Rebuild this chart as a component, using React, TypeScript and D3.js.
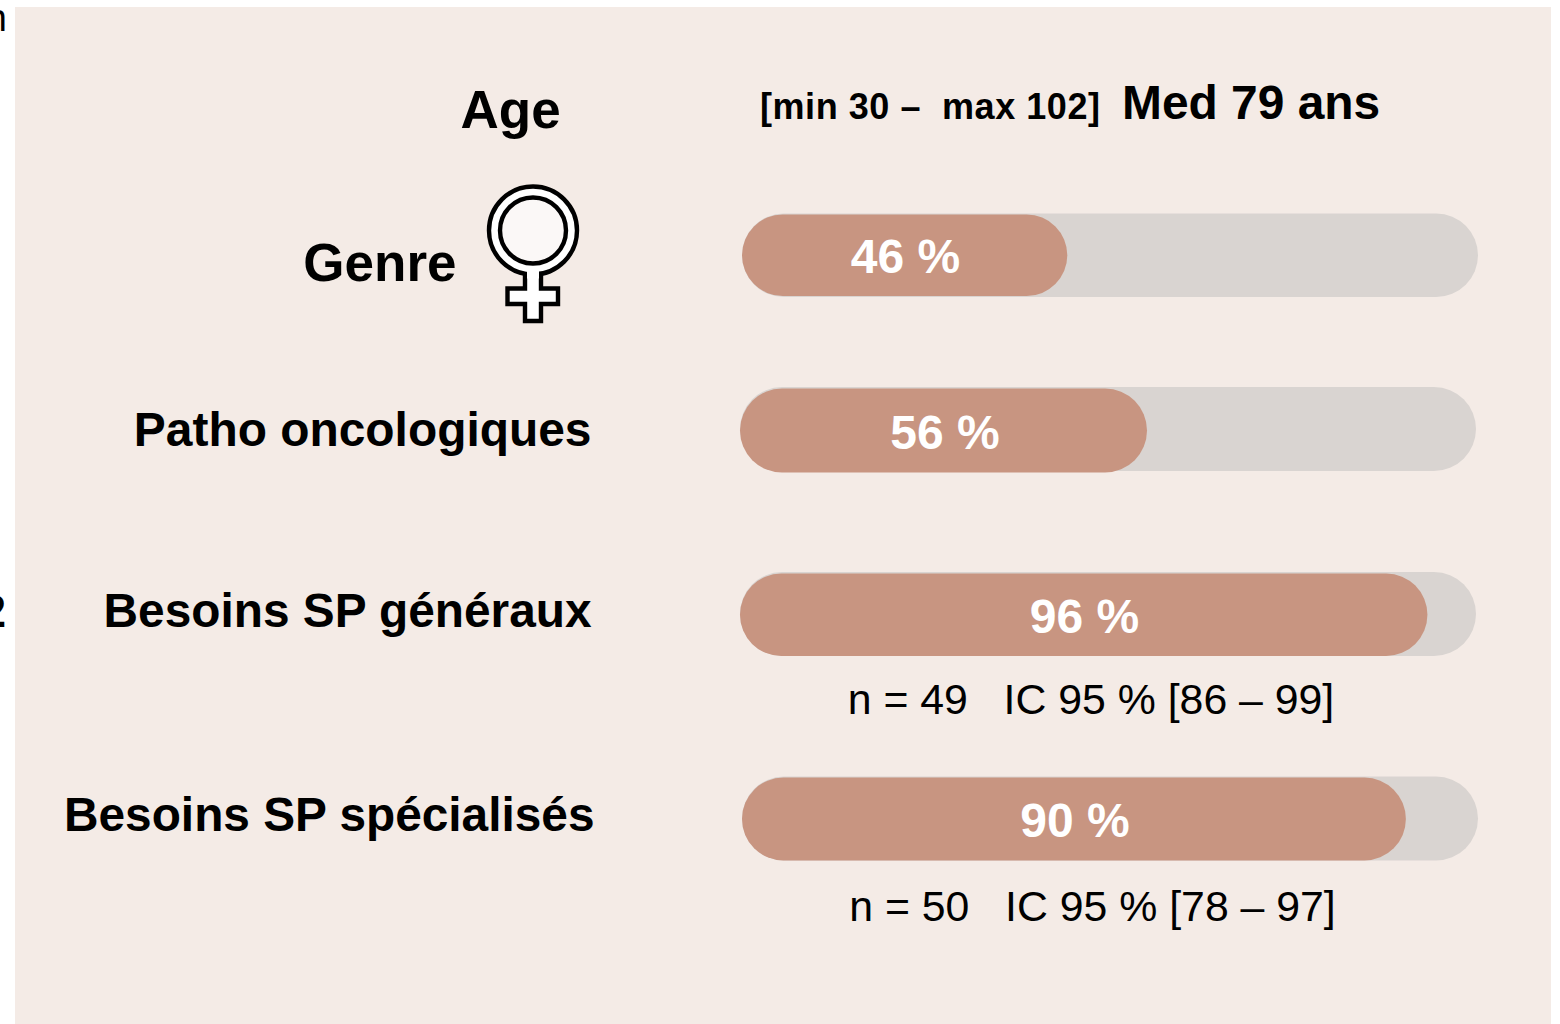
import { useEffect, useRef } from "react";
import * as d3 from "d3";

const rowLabels = ["Genre", "Patho oncologiques", "Besoins SP généraux", "Besoins SP spécialisés"];
const percentLabels = ["46 %", "56 %", "96 %", "90 %"];
// length of the filled part as drawn in the picture, in % of the track
const fillValues = [44.2, 55.3, 93.4, 90.2];
const ciNotes = ["", "", "n = 49   IC 95 % [86 – 99]", "n = 50   IC 95 % [78 – 97]"];

const W = 1560;
const H = 1024;
const FONT = "'Liberation Sans', Arial, sans-serif";
const PANEL = "#f4ebe6";

// geometry per row: track box, fill box, label and text anchors
const rowLayout = [
    { x: 742, y: 213.5, h: 83.5, fy: 214.5, fh: 81.5, lx: 456.5, ly: 281, ls: 53, px: 905.5, py: 273, nx: 0, ny: 0 },
    { x: 740, y: 387, h: 84, fy: 388.5, fh: 84, lx: 591.5, ly: 446, ls: 47.9, px: 945, py: 449, nx: 0, ny: 0 },
    { x: 740, y: 572, h: 84, fy: 573.5, fh: 82.5, lx: 591.5, ly: 627, ls: 47.8, px: 1084.5, py: 633, nx: 1091, ny: 713.5 },
    { x: 742, y: 776.5, h: 84, fy: 777.5, fh: 83, lx: 594.5, ly: 831, ls: 47.8, px: 1075, py: 837, nx: 1092.5, ny: 921 },
];
const TRACK_W = 736;

export default function App() {
    const ref = useRef<SVGSVGElement | null>(null);

    useEffect(() => {
        if (!ref.current) return;
        const svg = d3.select(ref.current);
        svg.selectAll("*").remove();

        const x = d3.scaleLinear().domain([0, 100]).range([0, TRACK_W]);

        svg.append("rect").attr("width", W).attr("height", H).attr("fill", "#ffffff");
        svg.append("rect").attr("x", 15).attr("y", 7).attr("width", 1536).attr("height", 1017).attr("fill", PANEL);

        // clipped text from the neighbouring slide
        const txt = svg.append("g").attr("font-family", FONT);
        txt.append("text").attr("x", 7).attr("y", 31).attr("text-anchor", "end").attr("font-size", 38).text("n");
        txt.append("text").attr("x", 6).attr("y", 627).attr("text-anchor", "end").attr("font-size", 46).attr("font-weight", 700).text("2");

        // age row
        txt.append("text").attr("x", 460.5).attr("y", 128).attr("font-size", 53).attr("font-weight", 700).text("Age");
        txt.append("text").attr("x", 760).attr("y", 119).attr("font-size", 36).attr("font-weight", 700).attr("textLength", 340).style("white-space", "pre").text("[min 30 –  max 102]");
        txt.append("text").attr("x", 1122).attr("y", 119).attr("font-size", 47.9).attr("font-weight", 700).text("Med 79 ans");

        // rows
        const rows = svg.append("g").selectAll("g").data(rowLabels).join("g");

        rows.append("text")
            .attr("x", (_, i) => rowLayout[i].lx)
            .attr("y", (_, i) => rowLayout[i].ly)
            .attr("text-anchor", "end")
            .attr("font-family", FONT)
            .attr("font-weight", 700)
            .attr("font-size", (_, i) => rowLayout[i].ls)
            .text((d) => d);

        rows.append("rect")
            .attr("x", (_, i) => rowLayout[i].x)
            .attr("y", (_, i) => rowLayout[i].y)
            .attr("width", x(100))
            .attr("height", (_, i) => rowLayout[i].h)
            .attr("rx", (_, i) => rowLayout[i].h / 2)
            .attr("fill", "#d9d4d1");

        rows.append("rect")
            .attr("x", (_, i) => rowLayout[i].x)
            .attr("y", (_, i) => rowLayout[i].fy)
            .attr("width", (_, i) => x(fillValues[i]))
            .attr("height", (_, i) => rowLayout[i].fh)
            .attr("rx", (_, i) => rowLayout[i].fh / 2)
            .attr("fill", "#c89581");

        rows.append("text")
            .attr("x", (_, i) => rowLayout[i].px)
            .attr("y", (_, i) => rowLayout[i].py)
            .attr("text-anchor", "middle")
            .attr("font-family", FONT)
            .attr("font-weight", 700)
            .attr("font-size", 48)
            .attr("fill", "#ffffff")
            .text((_, i) => percentLabels[i]);

        rows.append("text")
            .attr("x", (_, i) => rowLayout[i].nx)
            .attr("y", (_, i) => rowLayout[i].ny)
            .attr("text-anchor", "middle")
            .attr("font-family", FONT)
            .attr("font-size", 42.8)
            .style("white-space", "pre")
            .text((_, i) => ciNotes[i]);

        // female symbol: ring and cross with a black outline
        const sym = svg.append("g").attr("fill", "#ffffff").attr("stroke", "#000000").attr("stroke-width", 4.4);
        const crossPath = d3.path();
        crossPath.moveTo(525, 270);
        crossPath.lineTo(525, 288.5);
        crossPath.lineTo(507.5, 288.5);
        crossPath.lineTo(507.5, 304);
        crossPath.lineTo(525, 304);
        crossPath.lineTo(525, 321);
        crossPath.lineTo(541, 321);
        crossPath.lineTo(541, 304);
        crossPath.lineTo(558, 304);
        crossPath.lineTo(558, 288.5);
        crossPath.lineTo(541, 288.5);
        crossPath.lineTo(541, 270);
        crossPath.closePath();
        sym.append("path").attr("d", crossPath.toString()).attr("stroke-linejoin", "miter");
        sym.append("circle").attr("cx", 533).attr("cy", 230.5).attr("r", 44);
        sym.append("circle").attr("cx", 533).attr("cy", 230.5).attr("r", 33).attr("fill", "#fbf8f7");
        // hide the join between ring and stem
        sym.append("rect").attr("x", 527).attr("y", 266.5).attr("width", 12).attr("height", 12).attr("fill", "#ffffff").attr("stroke", "none");
    }, []);

    return <svg ref={ref} width={W} height={H} style={{ position: "absolute", left: 0, top: 0 }} />;
}
